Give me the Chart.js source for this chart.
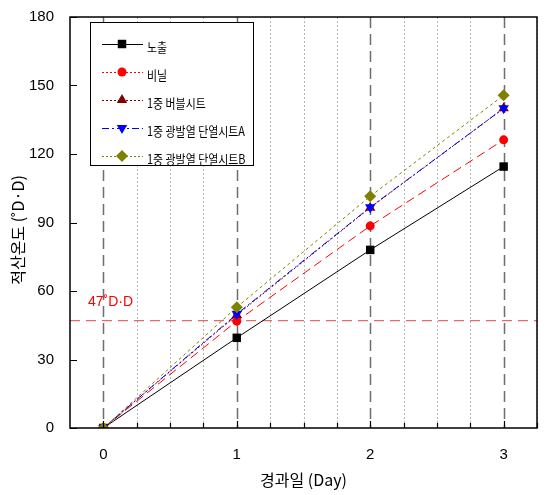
<!DOCTYPE html>
<html>
<head>
<meta charset="utf-8">
<script src="https://cdn.jsdelivr.net/npm/chart.js@4.4.1/dist/chart.umd.min.js"></script>
<style>
  body { margin: 0; background: #fff; }
  #wrap { width: 547px; height: 495px; }
</style>
</head>
<body>
<div id="wrap"><canvas id="chart" width="547" height="495"></canvas></div>
<script>
// data
const days = [0, 1, 2, 3];
const exposed = [0, 39.5, 78, 114.5];
const vinyl = [0, 46.8, 88.5, 126.2];
const bubble = [0, 49.5, 96.5, 140];
const sheetA = [0, 49.9, 96.7, 140];
const sheetB = [0, 52.9, 101.5, 145.7];
const seriesNames = ['노출', '비닐', '1중 버블시트', '1중 광발열 단열시트A', '1중 광발열 단열시트B'];
const xTicks = [0, 1, 2, 3];
const yTicks = [0, 30, 60, 90, 120, 150, 180];
const threshold = 47;
const thresholdLabel = '47˚D·D';
const xTitle = '경과일 (Day)';
const yTitle = '적산온도 (˚D·D)';

const FONT = "'Liberation Sans', Arial, 'Noto Sans CJK KR', sans-serif";
const KFONT = "'Noto Sans CJK KR', 'Liberation Sans', sans-serif";

const styles = [
  { color: '#000000', dash: [], legendDash: [], point: 'rect', radius: 6, rotation: 0 },
  { color: '#ff0000', dash: [9, 5], legendDash: [2, 2], point: 'circle', radius: 4.5, rotation: 0 },
  { color: '#800000', dash: [2, 2], legendDash: [2, 2], point: 'triangle', radius: 6, rotation: 0 },
  { color: '#0000ff', dash: [7, 3, 2, 3], legendDash: [7, 3, 2, 3], point: 'triangle', radius: 6, rotation: 180 },
  { color: '#808000', dash: [3, 3], legendDash: [2, 2], point: 'rectRot', radius: 6, rotation: 0 }
];
const seriesValues = [exposed, vinyl, bubble, sheetA, sheetB];

const datasets = seriesValues.map((vals, i) => ({
  label: seriesNames[i],
  data: days.map((d, j) => ({ x: d, y: vals[j] })),
  borderColor: styles[i].color,
  backgroundColor: styles[i].color,
  borderWidth: 1,
  borderDash: styles[i].dash,
  pointStyle: styles[i].point,
  pointRadius: styles[i].radius,
  pointRotation: styles[i].rotation,
  pointBorderWidth: 0,
  tension: 0,
  order: 5 - i
}));

// 47 D·D reference line
datasets.push({
  label: 'threshold',
  data: [{ x: -0.25, y: threshold }, { x: 3.25, y: threshold }],
  borderColor: '#e8464a',
  borderWidth: 1,
  borderDash: [10, 6],
  pointRadius: 0,
  order: 10
});

const gridPlugin = {
  id: 'grid',
  beforeDatasetsDraw(chart) {
    const { ctx, chartArea: a, scales: { x } } = chart;
    ctx.save();
    for (let v = 0; v <= 3.25; v += 0.25) {
      const px = Math.round(x.getPixelForValue(v)) + 0.5;
      const major = Math.abs(v - Math.round(v)) < 1e-6;
      ctx.beginPath();
      if (major) {
        ctx.strokeStyle = '#6e6e6e';
        ctx.lineWidth = 1.5;
        ctx.setLineDash([11, 6]);
      } else {
        ctx.strokeStyle = '#b4b4b4';
        ctx.lineWidth = 1;
        ctx.setLineDash([2, 2]);
      }
      ctx.moveTo(px, a.top);
      ctx.lineTo(px, a.bottom);
      ctx.stroke();
    }
    ctx.restore();
  },
  afterDraw(chart) {
    const { ctx, chartArea: a, scales: { x, y } } = chart;
    ctx.save();
    // frame
    ctx.strokeStyle = '#000';
    ctx.lineWidth = 1.5;
    ctx.setLineDash([]);
    ctx.strokeRect(a.left, a.top, a.right - a.left, a.bottom - a.top);
    // inward ticks
    ctx.lineWidth = 1.2;
    ctx.beginPath();
    for (let v = 0; v <= 3.25; v += 0.25) {
      const px = Math.round(x.getPixelForValue(v)) + 0.5;
      const major = Math.abs(v - Math.round(v)) < 1e-6;
      ctx.moveTo(px, a.bottom);
      ctx.lineTo(px, a.bottom - (major ? 7 : 5));
    }
    yTicks.forEach(v => {
      const py = Math.round(y.getPixelForValue(v)) + 0.5;
      ctx.moveTo(a.left, py);
      ctx.lineTo(a.left + 7, py);
    });
    ctx.stroke();

    // threshold label
    ctx.fillStyle = '#ff0000';
    ctx.font = '14px ' + FONT;
    ctx.textAlign = 'left';
    ctx.textBaseline = 'middle';
    ctx.fillText(thresholdLabel, 88, 302);

    // axis titles
    ctx.fillStyle = '#000';
    ctx.font = '16px ' + KFONT;
    ctx.textAlign = 'center';
    ctx.fillText(xTitle, (a.left + a.right) / 2, 480);
    ctx.save();
    ctx.translate(18, 230);
    ctx.rotate(-Math.PI / 2);
    ctx.fillText(yTitle, 0, 0);
    ctx.restore();

    // legend
    const lx = 90, ly = 22, lw = 163, lh = 143;
    ctx.fillStyle = '#fff';
    ctx.fillRect(lx, ly, lw, lh);
    ctx.strokeStyle = '#000';
    ctx.lineWidth = 1;
    ctx.strokeRect(lx + 0.5, ly + 0.5, lw, lh);
    chart.data.datasets.slice(0, 5).forEach((ds, i) => {
      const ry = 44 + i * 28;
      ctx.beginPath();
      ctx.strokeStyle = ds.borderColor;
      ctx.setLineDash(styles[i].legendDash);
      ctx.lineWidth = 1;
      ctx.moveTo(102, ry + 0.5);
      ctx.lineTo(143, ry + 0.5);
      ctx.stroke();
      ctx.setLineDash([]);
      ctx.fillStyle = ds.backgroundColor;
      Chart.helpers.drawPoint(ctx, {
        pointStyle: ds.pointStyle, radius: ds.pointRadius,
        rotation: ds.pointRotation, borderWidth: 0
      }, 122, ry);
      ctx.save();
      ctx.translate(147, ry + 3);
      ctx.scale(0.84, 1);
      ctx.fillStyle = '#000';
      ctx.font = '13px ' + KFONT;
      ctx.textAlign = 'left';
      ctx.textBaseline = 'middle';
      ctx.fillText(ds.label, 0, 0);
      ctx.restore();
    });
    ctx.restore();
  }
};

new Chart(document.getElementById('chart'), {
  type: 'line',
  data: { datasets },
  options: {
    responsive: false,
    animation: false,
    layout: { padding: { top: 13, right: 10, left: 0, bottom: 0 } },
    plugins: { legend: { display: false }, tooltip: { enabled: false } },
    scales: {
      x: {
        type: 'linear',
        min: -0.25, max: 3.25,
        grid: { display: false },
        border: { display: false },
        afterBuildTicks: s => { s.ticks = xTicks.map(v => ({ value: v })); },
        afterFit: s => { s.height = 67; },
        ticks: { color: '#000', font: { size: 15, family: FONT }, padding: 10 }
      },
      y: {
        min: 0, max: 180,
        grid: { display: false },
        border: { display: false },
        afterBuildTicks: s => { s.ticks = yTicks.map(v => ({ value: v })); },
        afterFit: s => { s.width = 70; },
        ticks: { color: '#000', font: { size: 15, family: FONT }, padding: 8 }
      }
    }
  },
  plugins: [gridPlugin]
});
</script>
</body>
</html>
